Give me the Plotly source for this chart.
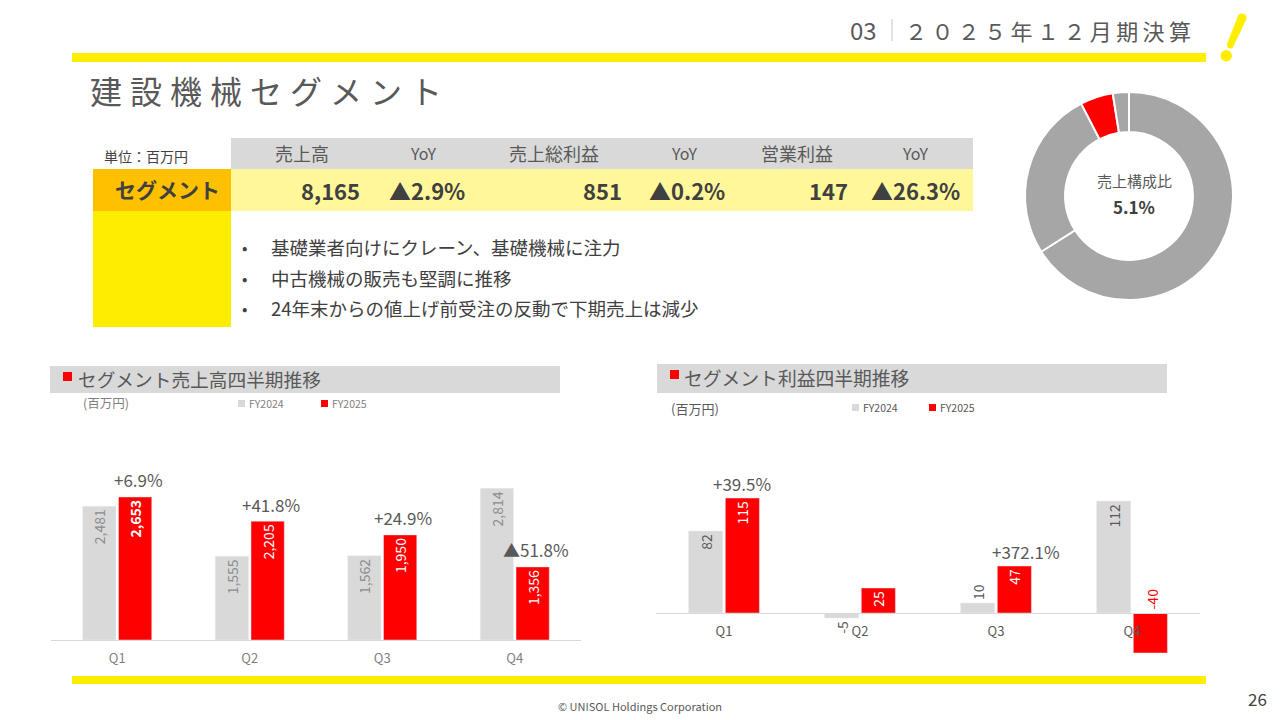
import plotly.graph_objects as go

W, H = 1280, 720
FONT = "Noto Sans CJK JP"

# ---------------- data ----------------
quarters = ["Q1", "Q2", "Q3", "Q4"]
sales_fy2024 = [2481, 1555, 1562, 2814]
sales_fy2025 = [2653, 2205, 1950, 1356]
sales_yoy = ["+6.9%", "+41.8%", "+24.9%", "▲51.8%"]

profit_fy2024 = [82, -5, 10, 112]
profit_fy2025 = [115, 25, 47, -40]
profit_yoy = ["+39.5%", "", "+372.1%", ""]

share_labels = ["セグメントA", "セグメントB", "建設機械", "その他"]
share_values = [66.0, 26.4, 5.1, 2.5]
share_center_label = "売上構成比"
share_center_value = "5.1%"

table_headers = ["売上高", "YoY", "売上総利益", "YoY", "営業利益", "YoY"]
table_values = ["8,165", "▲2.9%", "851", "▲0.2%", "147", "▲26.3%"]
row_label = "セグメント"
unit_label = "単位：百万円"

bullets = [
    "基礎業者向けにクレーン、基礎機械に注力",
    "中古機械の販売も堅調に推移",
    "24年末からの値上げ前受注の反動で下期売上は減少",
]

title_text = "建設機械セグメント"
section_no = "03"
section_name = "２０２５年１２月期決算"
chart1_title = "セグメント売上高四半期推移"
chart2_title = "セグメント利益四半期推移"
unit_short = "(百万円)"
series_names = ["FY2024", "FY2025"]
copyright_text = "© UNISOL Holdings Corporation"
page_no = "26"

# ---------------- styles ----------------
GRAY_BAR = "#D9D9D9"
RED = "#FF0000"
YELLOW = "#FFED00"
LIGHT_YELLOW = "#FFF799"
ORANGE = "#FFC000"
DARK = "#404040"
MID = "#595959"
LIGHT = "#7F7F7F"


def px(x):
    return x / W


def py(y):
    return 1 - y / H


def T(x, y, s, size=14, color=MID, xa="left", ya="middle", bold=False, **kw):
    return dict(x=px(x), y=py(y), xref="paper", yref="paper",
                text=f"<b>{s}</b>" if bold else s, showarrow=False,
                xanchor=xa, yanchor=ya,
                font=dict(family=FONT, size=size, color=color), **kw)


def R(x0, y0, x1, y1, color):
    return dict(type="rect", xref="paper", yref="paper", x0=px(x0), x1=px(x1),
                y0=py(y1), y1=py(y0), fillcolor=color, line=dict(width=0), layer="below")


def spaced(s, sep="\u2009"):
    return sep.join(s)


fig = go.Figure()

# ---------------- bar chart 1 : sales ----------------
fig.add_trace(go.Bar(
    x=quarters, y=sales_fy2024, name=series_names[0], marker_color=GRAY_BAR,
    text=[f"{v:,}" for v in sales_fy2024], texttemplate="%{text}",
    textangle=-90, textposition="inside", insidetextanchor="end",
    textfont=dict(family=FONT, size=14, color="#8C8C8C"),
    xaxis="x", yaxis="y", showlegend=False, hoverinfo="skip", cliponaxis=False))
bold_first = ["<b>%{text}</b>", "%{text}", "%{text}", "%{text}"]
fig.add_trace(go.Bar(
    x=quarters, y=sales_fy2025, name=series_names[1], marker_color=RED,
    text=[f"{v:,}" for v in sales_fy2025], texttemplate=bold_first,
    textangle=-90, textposition="inside", insidetextanchor="end",
    textfont=dict(family=FONT, size=14, color="white"),
    xaxis="x", yaxis="y", showlegend=False, hoverinfo="skip", cliponaxis=False))

# ---------------- bar chart 2 : profit ----------------
fig.add_trace(go.Bar(
    x=quarters, y=profit_fy2024, name=series_names[0], marker_color=GRAY_BAR,
    text=[f"{v:,}" for v in profit_fy2024], texttemplate="%{text}",
    textangle=-90, textposition=["inside", "outside", "outside", "inside"],
    insidetextanchor="end",
    insidetextfont=dict(family=FONT, size=14, color=MID),
    outsidetextfont=dict(family=FONT, size=14, color=MID),
    xaxis="x2", yaxis="y2", showlegend=False, hoverinfo="skip", cliponaxis=False))
fig.add_trace(go.Bar(
    x=quarters, y=profit_fy2025, name=series_names[1], marker_color=RED,
    text=[f"{v:,}" for v in profit_fy2025], texttemplate="%{text}",
    textangle=-90, textposition=["inside", "inside", "inside", "none"],
    insidetextanchor="end",
    insidetextfont=dict(family=FONT, size=14, color="white"),
    xaxis="x2", yaxis="y2", showlegend=False, hoverinfo="skip", cliponaxis=False))

# ---------------- donut ----------------
fig.add_trace(go.Pie(
    labels=share_labels, values=share_values, hole=0.615, sort=False,
    direction="clockwise", rotation=0, textinfo="none", hoverinfo="skip",
    marker=dict(colors=["#A6A6A6", "#A6A6A6", RED, "#A6A6A6"],
                line=dict(color="white", width=2)),
    domain=dict(x=[px(1025), px(1233)], y=[py(300), py(92)]),
    showlegend=False))

# ---------------- axes ----------------
y2_range = [-47, 173]
y2_dom = [py(660), py(440)]
zero_pos = y2_dom[0] + (0 - y2_range[0]) / (y2_range[1] - y2_range[0]) * (y2_dom[1] - y2_dom[0])

fig.update_layout(
    width=W, height=H, autosize=False,
    margin=dict(l=0, r=0, t=0, b=0),
    paper_bgcolor="white", plot_bgcolor="rgba(0,0,0,0)",
    barmode="group", bargap=0.46, bargroupgap=0.07,
    font=dict(family=FONT, color=MID),
    xaxis=dict(domain=[px(51), px(581)], anchor="y", showline=True, linecolor=GRAY_BAR,
               linewidth=1, ticks="", showgrid=False, zeroline=False,
               tickfont=dict(family=FONT, size=13, color=LIGHT), ticklabelstandoff=6,
               fixedrange=True),
    yaxis=dict(domain=[py(640), py(440)], range=[0, 3710], visible=False, fixedrange=True),
    xaxis2=dict(domain=[px(656), px(1200)], anchor="free", position=zero_pos,
                showline=True, linecolor=GRAY_BAR, linewidth=1, ticks="",
                showgrid=False, zeroline=False,
                tickfont=dict(family=FONT, size=13, color=MID), ticklabelstandoff=6,
                fixedrange=True),
    yaxis2=dict(domain=y2_dom, range=y2_range, visible=False, anchor="x2", fixedrange=True),
    hovermode=False,
)

# ---------------- shapes ----------------
shapes = [
    R(72, 53, 1206, 62, YELLOW),            # top rule
    R(72, 676, 1206, 684, YELLOW),          # bottom rule
    R(231, 138, 973, 169, GRAY_BAR),        # table header
    R(231, 169, 973, 211, LIGHT_YELLOW),    # table values row
    R(93, 169, 231, 211, ORANGE),           # row label cell
    R(93, 211, 231, 327, YELLOW),           # yellow block
    R(50, 366, 560, 393, GRAY_BAR),         # chart1 title bar
    R(657, 364, 1167, 393, GRAY_BAR),       # chart2 title bar
    R(63, 372, 72, 381, RED),
    R(670, 370, 679, 379, RED),
    R(238, 400, 245, 407, GRAY_BAR),        # legend squares chart1
    R(321, 400, 328, 407, RED),
    R(852, 404, 859, 411, GRAY_BAR),        # legend squares chart2
    R(929, 404, 936, 411, RED),
    dict(type="line", xref="paper", yref="paper", x0=px(892), x1=px(892),
         y0=py(41), y1=py(19), line=dict(color=GRAY_BAR, width=1.5)),
]
# exclamation mark
ex_path = "M {} {} L {} {} L {} {} L {} {} Z".format(
    px(1237.5), py(17), px(1246.5), py(19), px(1233.5), py(46), px(1227), py(44))
shapes.append(dict(type="path", path=ex_path, xref="paper", yref="paper",
                   fillcolor=YELLOW, line=dict(width=0)))
shapes.append(dict(type="circle", xref="paper", yref="paper",
                   x0=px(1237.5), x1=px(1246.5), y0=py(22.5), y1=py(13.5),
                   fillcolor=YELLOW, line=dict(width=0)))
shapes.append(dict(type="circle", xref="paper", yref="paper",
                   x0=px(1227), x1=px(1233.5), y0=py(48.5), y1=py(42),
                   fillcolor=YELLOW, line=dict(width=0)))
shapes.append(dict(type="circle", xref="paper", yref="paper",
                   x0=px(1220.5), x1=px(1232), y0=py(61.5), y1=py(50),
                   fillcolor=YELLOW, line=dict(width=0)))
fig.update_layout(shapes=shapes)

# ---------------- annotations ----------------
ann = []
ann.append(T(848, 30, section_no, size=24, color=MID))
ann.append(T(903, 30, spaced(section_name), size=22, color=MID))
ann.append(T(88, 90, spaced(title_text, "\u2005"), size=32, color=MID))

ann.append(T(102, 156, unit_label, size=14, color=DARK))
header_x = [301.5, 423.5, 554, 684, 797, 915]
for hx, h in zip(header_x, table_headers):
    ann.append(T(hx, 153, h, size=18 if h != "YoY" else 16, color=MID, xa="center"))
value_pos = [(362, "right"), (387, "left"), (624, "right"), (647, "left"), (850, "right"), (869, "left")]
for (vx, va), v in zip(value_pos, table_values):
    ann.append(T(vx, 190, v, size=22, color=DARK, xa=va, bold=True))
ann.append(T(167, 189, row_label, size=21, color=DARK, xa="center", bold=True))

for i, b in enumerate(bullets):
    yy = 247 + i * 30.5
    ann.append(T(240, yy, "•", size=16, color=DARK))
    ann.append(T(269, yy, b, size=18.5, color=DARK))

ann.append(T(1134, 180, share_center_label, size=15, color=MID, xa="center"))
ann.append(T(1134, 206, share_center_value, size=17, color=DARK, xa="center", bold=True))

ann.append(T(76, 378.5, chart1_title, size=18.7, color=MID))
ann.append(T(682, 377, chart2_title, size=18.8, color=MID))
ann.append(T(81, 402, unit_short, size=12.5, color=LIGHT))
ann.append(T(669, 408, unit_short, size=13, color=MID))
ann.append(T(247, 403, series_names[0], size=10.5, color=LIGHT))
ann.append(T(330, 403, series_names[1], size=10.5, color=LIGHT))
ann.append(T(861, 407, series_names[0], size=10.5, color=MID))
ann.append(T(938, 407, series_names[1], size=10.5, color=MID))

# YoY labels above FY2025 bars
for q, v, lab in zip(quarters, sales_fy2025, sales_yoy):
    if lab:
        ann.append(dict(x=q, y=v, xref="x", yref="y", text=lab, showarrow=False,
                        xanchor="center", yanchor="middle", xshift=21, yshift=17,
                        font=dict(family=FONT, size=17, color=MID)))
extra_shift = [0, 0, 12, 0]
for q, v, lab, es in zip(quarters, profit_fy2025, profit_yoy, extra_shift):
    if lab:
        ann.append(dict(x=q, y=v, xref="x2", yref="y2", text=lab, showarrow=False,
                        xanchor="center", yanchor="middle", xshift=18 + es, yshift=15,
                        font=dict(family=FONT, size=17, color=MID)))
# negative FY2025 profit label placed above the zero line
for q, v, tp in zip(quarters, profit_fy2025, ["inside", "inside", "inside", "none"]):
    if tp == "none":
        ann.append(dict(x=q, y=0, xref="x2", yref="y2", text=f"{v:,}", showarrow=False,
                        xanchor="center", yanchor="bottom", xshift=19, yshift=1,
                        textangle=-90, font=dict(family=FONT, size=14, color=RED)))

ann.append(T(640, 706, copyright_text, size=11, color=MID, xa="center"))
ann.append(T(1257, 698, page_no, size=17, color=DARK, xa="center"))

fig.update_layout(annotations=ann)

fig.write_html("out.html")
